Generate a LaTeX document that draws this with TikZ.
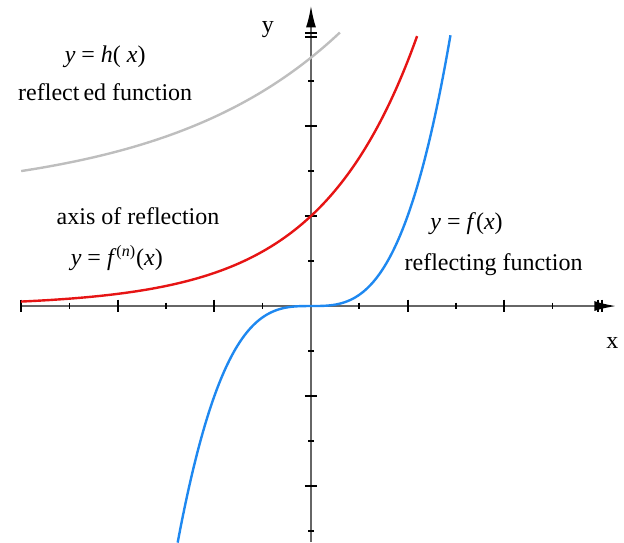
\documentclass[tikz,border=0pt]{standalone}
\usepackage{fontspec}
\setmainfont{Liberation Serif}
\usepackage{tikz}
\usetikzlibrary{arrows.meta}
\definecolor{reflectingColor}{RGB}{30,136,240}
\definecolor{axisColor}{RGB}{230,20,20}
\definecolor{reflectedColor}{RGB}{190,190,190}
\newcommand{\ivar}[1]{\textit{#1}}
\tikzset{
axis line/.style={draw=black!60, line width=1pt},
axis tip/.style={-{Latex[length=11pt,width=5pt,color=black]}},
major tick/.style={black, line width=0.9pt},
minor tick/.style={black, line width=0.8pt},
%
%
fn curve/.style={line width=1.2pt, smooth, samples=120},
reflecting curve/.style={fn curve, reflectingColor},
axis curve/.style={fn curve, axisColor},
reflected curve/.style={fn curve, reflectedColor},
%
label text/.style={inner sep=1pt, align=center},
}
\begin{document}
\begin{tikzpicture}[x=48.3pt,y=45pt,font=\fontsize{12}{14}\selectfont]
        \useasboundingbox (-3.219,-2.622) rectangle (3.240,3.4);
        % axes
        \draw[axis line,axis tip] (-3,0) -- (3.16,0);
        \draw[axis line,axis tip] (0,-2.622) -- (0,3.34);
        \foreach \x in {-3,-2,-1,1,2,2.97,3.01}  {
            \draw[major tick] (\x,3.2pt) -- (\x,-3.2pt);
        }
        \foreach \x in {-2.5,-1.5,-0.5,0.5,1.5,2.5}  {
            \draw[minor tick] (\x,1.7pt) -- (\x,-1.7pt);
        }
        \foreach \y in {-2,-1,1,2,2.99,3.03}  {
            \draw[major tick] (-3pt,\y) -- (3pt,\y);
        }
        \foreach \y in {-2.5,-1.5,-0.5,0.5,1.5,2.5}  {
            \draw[minor tick] (-1.4pt,\y) -- (1.4pt,\y);
        }
        \node (ylab) at (-0.445,3.07) {y};
        \node (xlab) at (3.12,-0.41) {x};
        % curves
        \draw[reflected curve] plot[domain=-3:0.3] (\x,{1.2+1.56*exp(0.55*\x)});
        \draw[axis curve] plot[domain=-3:1.1] (\x,{exp(\x)});
        \draw[reflecting curve] plot[domain=-1.38:1.445] (\x,{\x*\x*\x});
        % labels
        \node[label text] (heq) at (-2.13,2.77) {\ivar{y} = \ivar{h}( \ivar{x})};
        \node[label text] (hname) at (-2.13,2.38) {reflect\,ed function};
        \node[label text] (axname) at (-1.79,1.0) {axis of reflection};
        \node[label text] (axeq) at (-2.01,0.53) {\ivar{y} = \ivar{f}\textsuperscript{(\ivar{n})}(\ivar{x})};
        \node[label text] (feq) at (1.61,0.91) {\ivar{y} = \ivar{f}(\ivar{x})};
        \node[label text] (fname) at (1.89,0.46) {reflecting function};
    \end{tikzpicture}
\end{document}
